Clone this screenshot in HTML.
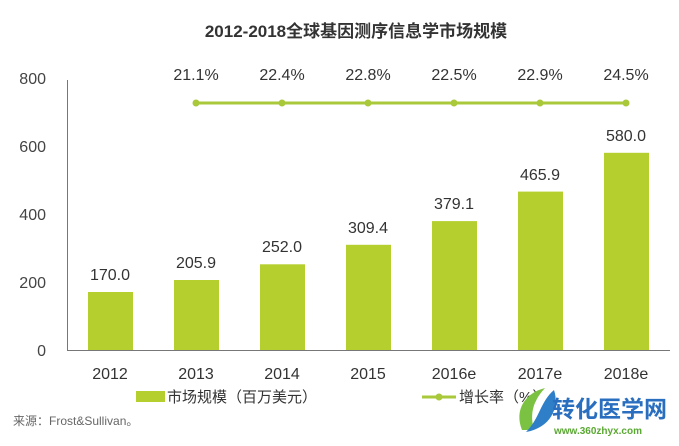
<!DOCTYPE html>
<html><head><meta charset="utf-8"><style>
body{margin:0;background:#fff;}
svg text{font-family:"Liberation Sans","Noto Sans CJK SC",sans-serif;}
</style></head><body>
<svg width="679" height="441" viewBox="0 0 679 441" xmlns="http://www.w3.org/2000/svg">
<text x="356" y="37" text-anchor="middle" font-size="17" font-weight="bold" fill="#333">2012-2018全球基因测序信息学市场规模</text>
<g font-size="16" fill="#444" text-anchor="end">
<text x="46" y="84">800</text><text x="46" y="152">600</text><text x="46" y="220">400</text><text x="46" y="288">200</text><text x="46" y="356">0</text>
</g>
<line x1="67.5" y1="80" x2="67.5" y2="350" stroke="#777" stroke-width="1"/>
<line x1="67" y1="350.5" x2="670" y2="350.5" stroke="#777" stroke-width="1"/>
<g fill="#b5cf2e">
<rect x="88" y="292" width="45" height="58"/>
<rect x="174" y="280" width="45" height="70"/>
<rect x="260" y="264.3" width="45" height="85.7"/>
<rect x="346" y="244.8" width="45" height="105.2"/>
<rect x="432" y="221.1" width="45" height="128.9"/>
<rect x="518" y="191.6" width="45" height="158.4"/>
<rect x="604" y="152.8" width="45" height="197.2"/>
</g>
<g font-size="16" fill="#333" text-anchor="middle">
<text x="110" y="280">170.0</text><text x="196" y="268">205.9</text><text x="282" y="252">252.0</text><text x="368" y="233">309.4</text><text x="454" y="209">379.1</text><text x="540" y="180">465.9</text><text x="626" y="141">580.0</text>
<text x="196" y="80">21.1%</text><text x="282" y="80">22.4%</text><text x="368" y="80">22.8%</text><text x="454" y="80">22.5%</text><text x="540" y="80">22.9%</text><text x="626" y="80">24.5%</text>
<text x="110" y="379">2012</text><text x="196" y="379">2013</text><text x="282" y="379">2014</text><text x="368" y="379">2015</text><text x="454" y="379">2016e</text><text x="540" y="379">2017e</text><text x="626" y="379">2018e</text>
</g>
<polyline points="196,103 282,103 368,103 454,103 540,103 626,103" fill="none" stroke="#a9c83a" stroke-width="3"/>
<g fill="#a9c83a"><circle cx="196" cy="103" r="3.5"/><circle cx="282" cy="103" r="3.5"/><circle cx="368" cy="103" r="3.5"/><circle cx="454" cy="103" r="3.5"/><circle cx="540" cy="103" r="3.5"/><circle cx="626" cy="103" r="3.5"/></g>
<rect x="136" y="391" width="29" height="11" fill="#b5cf2e"/>
<text x="167" y="402" font-size="15" fill="#333">市场规模（百万美元）</text>
<line x1="422" y1="397" x2="456" y2="397" stroke="#a9c83a" stroke-width="3"/>
<circle cx="439" cy="397" r="3.5" fill="#a9c83a"/>
<text x="459" y="402" font-size="15" fill="#333">增长率（%）</text>
<text x="13" y="425" font-size="12" fill="#666">来源：Frost&amp;Sullivan。</text>
<path d="M522 430 C514 410 525 393 545 388 C532 402 530 415 534 430 Z" fill="#7cc242"/>
<path d="M526 432 C540 418 540 402 554 390 C560 408 550 428 526 432 Z" fill="#2f7fc8"/>
<text x="552" y="417" font-size="23" font-weight="bold" fill="#2a6fbf">转化医学网</text>
<text x="554" y="434" font-size="10" font-weight="bold" fill="#5aa832">www.360zhyx.com</text>
</svg>
</body></html>
